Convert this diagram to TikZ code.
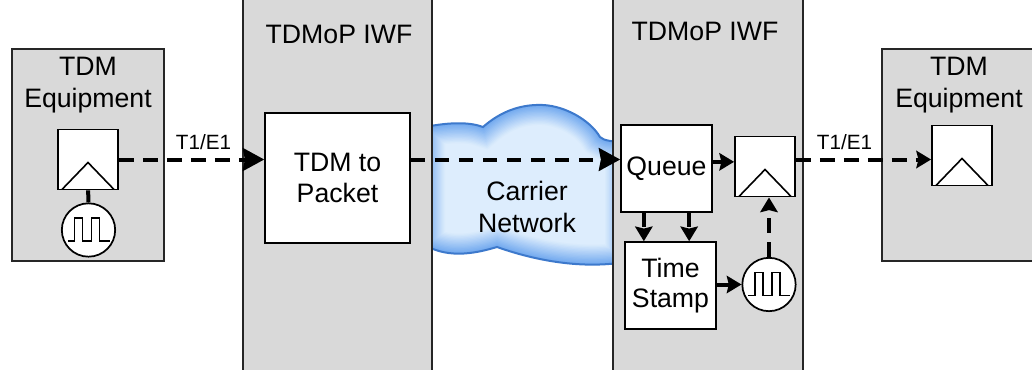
\documentclass[tikz,border=0pt]{standalone}
\usepackage{fontspec}
\setmainfont{Liberation Sans}
\usetikzlibrary{positioning, arrows.meta}

\definecolor{panelgray}{HTML}{D9D9D9}
\definecolor{cloudlight}{HTML}{DDEDFD}
\definecolor{cloudblue}{HTML}{6BA5EE}
\definecolor{cloudedge}{HTML}{3D79CC}
\def\cloudpath{(425,127) .. controls (450,122) and (470,122) .. (483,127)
    .. controls (500,112) and (520,104) .. (543,105) .. controls (565,106) and (590,120) .. (600,137)
    .. controls (604,141) and (612,141) .. (625,143) -- (625,262) .. controls (590,268) and (545,264) .. (497,247)
    .. controls (480,252) and (450,260) .. (425,245) -- cycle}

\tikzset{
    panel/.style={draw=black!85, line width=1.4pt, fill=panelgray, inner sep=0pt},
    block/.style={draw=black, line width=1.4pt, fill=white, inner sep=0pt, align=center, font=\fontsize{20}{23}\selectfont},
    title/.style={align=center, inner sep=0pt, font=\fontsize{20}{24}\selectfont},
    small/.style={inner sep=0pt, font=\fontsize{15.5}{18}\selectfont},
    latch/.style={draw=black, line width=1.4pt, fill=white, inner sep=0pt, minimum size=45pt,
        path picture={\draw[line width=1.2pt, shift={(path picture bounding box.center)}] (-27,31) -- (0,3) -- (27,31);}},
    clock/.style={circle, draw=black, line width=1.3pt, fill=white, inner sep=0pt, minimum size=40pt,
        path picture={\draw[line width=1.3pt, shift={(path picture bounding box.center)}] (-21,11) -- (-14,11) -- (-14,-12) -- (-6,-12) -- (-6,11) -- (3,11) -- (3,-12) -- (11,-12) -- (11,11) -- (21,11);}},
    link/.style={line width=3pt, -{Stealth[length=11pt, width=13pt, inset=1.5pt]}},
    biglink/.style={line width=3pt, dash pattern=on 11pt off 7pt, -{Stealth[length=16pt, width=17pt, inset=1.5pt]}},
    dashlink/.style={link, dash pattern=on 11pt off 7pt},
}

\begin{document}
\begin{tikzpicture}[x=0.75pt, y=-0.75pt]
    \useasboundingbox (0,0) rectangle (1032,369);
    \clip (0,0) rectangle (1032,369);

    % cloud goes first, the two IWF panels cover its sides
    \begin{scope}
        \clip \cloudpath;
        \fill[cloudlight] (420,100) rectangle (630,270);
        \foreach \w in {30,28,...,2} {
            \pgfmathsetmacro{\shade}{100-3.2*\w}
            \draw[line width=\w pt, color=cloudblue!\shade!cloudlight] \cloudpath;
        }
    \end{scope}
    \draw[cloudedge, line width=1.5pt] \cloudpath;

    \node[panel, minimum width=114pt, minimum height=159pt] (leftpanel) at (88,155) {};
    \node[panel, minimum width=142pt, minimum height=290pt] (iwfa) at (337.5,190) {};
    \node[panel, minimum width=142pt, minimum height=290pt] (iwfb) at (708,190) {};
    \node[panel, minimum width=116pt, minimum height=159pt] (rightpanel) at (959,155) {};

    \node[title] (lefttitle) at (88,85) {TDM\\Equipment};
    \node[title] (righttitle) at (959,85) {TDM\\Equipment};
    \node[title] (iwfatitle) at (339,34) {TDMoP IWF};
    \node[title] (iwfbtitle) at (705,31) {TDMoP IWF};
    \node[title] (carrier) at (527,207) {Carrier\\Network};

    \node[block, minimum width=108.5pt, minimum height=97.5pt] (packet) at (337.5,178) {TDM to\\Packet};
    \node[block, minimum width=68pt, minimum height=65pt] (queue) at (666.5,168.5) {Queue};
    \node[block, minimum width=68pt, minimum height=65pt] (stamp) at (670.5,285.5) {Time\\Stamp};

    \node[latch] (latcha) at (88,159.5) {};
    \node[latch] (latchb) at (765,166.5) {};
    \node[latch] (latchc) at (962,155.5) {};
    \node[clock] (clocka) at (88.5,230) {};
    \node[clock] (clockb) at (769,284.5) {};

    \node[small] (linea) at (203.5,142) {T1/E1};
    \node[small] (lineb) at (844.5,142) {T1/E1};

    \draw[line width=3pt] (latcha) -- (clocka);
    \draw[biglink] (latcha.east) -- (latcha.east -| packet.west);
    \draw[biglink] (latcha.east -| packet.east) -- (latcha.east -| queue.west);
    \draw[link] ([yshift=3.5pt]latchb.west -| queue.east) -- ([yshift=3.5pt]latchb.west);
    \draw[dashlink] (latcha.east -| latchb.east) -- (latcha.east -| latchc.west);
    \draw[dashlink] ([xshift=-17pt]queue.south) -- ([xshift=-17pt]queue.south |- stamp.north);
    \draw[dashlink] ([xshift=17pt]queue.south) -- ([xshift=17pt]queue.south |- stamp.north);
    \draw[link] (stamp.east |- clockb.west) -- (clockb.west);
    \draw[dashlink] (clockb.north) -- (clockb.north |- latchb.south);
\end{tikzpicture}
\end{document}
